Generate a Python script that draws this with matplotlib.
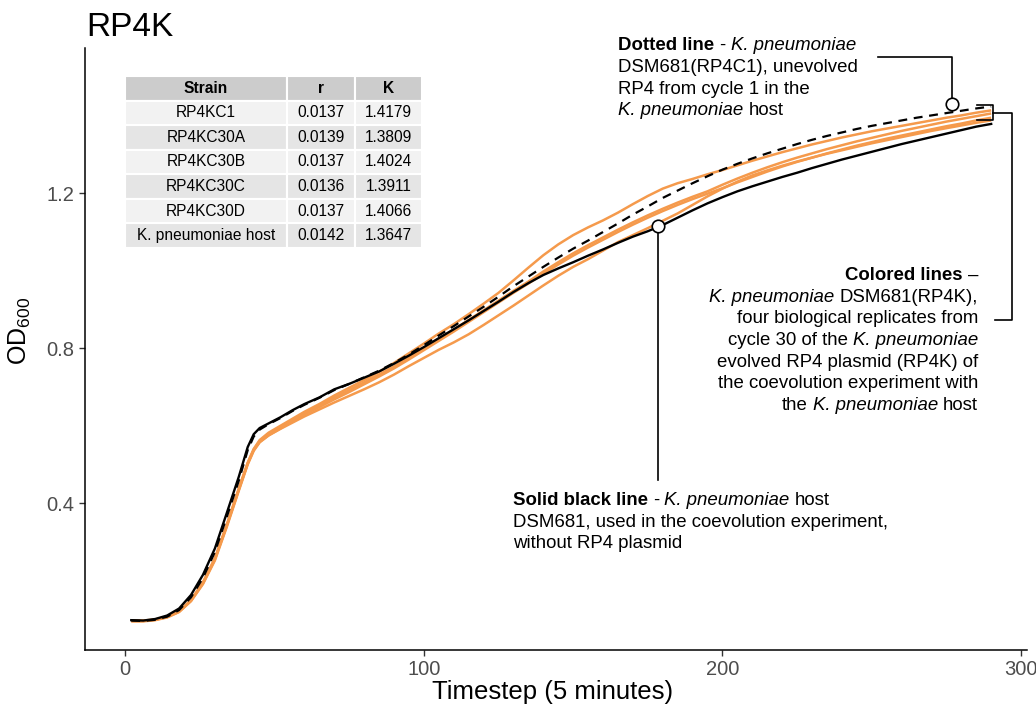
import matplotlib
matplotlib.use("Agg")
import matplotlib.pyplot as plt
from matplotlib.transforms import IdentityTransform

plt.rcParams['font.family'] = ['Liberation Sans', 'DejaVu Sans']
plt.rcParams['mathtext.fontset'] = 'custom'
plt.rcParams['mathtext.rm'] = 'Liberation Sans'
plt.rcParams['mathtext.it'] = 'Liberation Sans:italic'
plt.rcParams['mathtext.bf'] = 'Liberation Sans:bold'

# growth curves, OD600
timestep = [2, 6, 10, 14, 18, 22, 26, 30, 34, 38, 41, 43, 45, 48, 52, 56, 60,
            65, 70, 75, 80, 85, 90, 95, 100, 105, 110, 115, 120, 125, 130, 135,
            140, 145, 150, 155, 160, 165, 170, 175, 180, 185, 190, 195, 200, 205,
            210, 215, 220, 225, 230, 235, 240, 245, 250, 255, 260, 265, 270, 275,
            280, 285, 290]

host = [0.098, 0.097, 0.101, 0.110, 0.128, 0.163, 0.215, 0.283, 0.375, 0.468,
        0.545, 0.578, 0.594, 0.606, 0.622, 0.640, 0.656, 0.673, 0.694, 0.708,
        0.724, 0.740, 0.760, 0.781, 0.803, 0.826, 0.849, 0.872, 0.896, 0.920,
        0.945, 0.968, 0.989, 1.006, 1.022, 1.039, 1.055, 1.072, 1.088, 1.102,
        1.118, 1.137, 1.156, 1.174, 1.190, 1.205, 1.218, 1.230, 1.242, 1.253,
        1.265, 1.276, 1.287, 1.297, 1.307, 1.317, 1.327, 1.336, 1.345, 1.354,
        1.363, 1.372, 1.379]

rp4kc1 = [0.097, 0.096, 0.099, 0.107, 0.124, 0.157, 0.207, 0.274, 0.365, 0.458,
          0.537, 0.572, 0.590, 0.604, 0.620, 0.638, 0.654, 0.672, 0.692, 0.708,
          0.725, 0.742, 0.762, 0.784, 0.808, 0.833, 0.857, 0.882, 0.907, 0.933,
          0.960, 0.985, 1.010, 1.034, 1.057, 1.078, 1.100, 1.122, 1.145, 1.166,
          1.188, 1.207, 1.226, 1.244, 1.261, 1.276, 1.290, 1.303, 1.315, 1.327,
          1.338, 1.348, 1.357, 1.366, 1.374, 1.381, 1.388, 1.395, 1.401, 1.407,
          1.413, 1.419, 1.424]

rp4kc30d = [0.097, 0.097, 0.100, 0.107, 0.121, 0.150, 0.196, 0.258, 0.345, 0.438,
            0.505, 0.540, 0.563, 0.582, 0.600, 0.618, 0.636, 0.656, 0.678, 0.698,
            0.718, 0.739, 0.762, 0.787, 0.812, 0.838, 0.862, 0.888, 0.915, 0.943,
            0.975, 1.008, 1.040, 1.068, 1.092, 1.112, 1.130, 1.150, 1.172, 1.193,
            1.212, 1.226, 1.237, 1.249, 1.260, 1.272, 1.284, 1.295, 1.306, 1.316,
            1.326, 1.335, 1.344, 1.352, 1.360, 1.367, 1.374, 1.381, 1.388, 1.395,
            1.401, 1.408, 1.414]

rp4kc30b = [0.096, 0.096, 0.099, 0.106, 0.120, 0.149, 0.194, 0.256, 0.343, 0.436,
            0.503, 0.538, 0.560, 0.578, 0.596, 0.614, 0.632, 0.652, 0.673, 0.692,
            0.712, 0.732, 0.753, 0.776, 0.800, 0.824, 0.848, 0.873, 0.898, 0.923,
            0.948, 0.972, 0.998, 1.022, 1.045, 1.066, 1.086, 1.106, 1.125, 1.143,
            1.160, 1.176, 1.191, 1.205, 1.222, 1.238, 1.253, 1.267, 1.280, 1.292,
            1.303, 1.314, 1.324, 1.334, 1.343, 1.352, 1.361, 1.369, 1.377, 1.385,
            1.392, 1.399, 1.406]

rp4kc30c = [0.095, 0.095, 0.098, 0.105, 0.119, 0.147, 0.191, 0.252, 0.339, 0.432,
            0.500, 0.535, 0.557, 0.575, 0.593, 0.611, 0.629, 0.648, 0.668, 0.687,
            0.707, 0.727, 0.748, 0.771, 0.795, 0.819, 0.843, 0.868, 0.893, 0.918,
            0.943, 0.967, 0.992, 1.016, 1.039, 1.060, 1.080, 1.100, 1.119, 1.137,
            1.154, 1.170, 1.185, 1.199, 1.213, 1.228, 1.242, 1.256, 1.269, 1.281,
            1.292, 1.303, 1.313, 1.323, 1.332, 1.341, 1.349, 1.357, 1.365, 1.373,
            1.380, 1.388, 1.395]

rp4kc30a = [0.096, 0.096, 0.099, 0.106, 0.120, 0.148, 0.193, 0.255, 0.342, 0.434,
            0.502, 0.537, 0.558, 0.575, 0.592, 0.608, 0.624, 0.642, 0.660, 0.677,
            0.694, 0.712, 0.732, 0.754, 0.775, 0.796, 0.815, 0.836, 0.860, 0.885,
            0.910, 0.936, 0.962, 0.987, 1.010, 1.030, 1.052, 1.074, 1.092, 1.110,
            1.129, 1.148, 1.170, 1.192, 1.212, 1.230, 1.246, 1.259, 1.271, 1.282,
            1.292, 1.302, 1.311, 1.320, 1.329, 1.337, 1.345, 1.353, 1.361, 1.368,
            1.375, 1.382, 1.388]

# logistic fit table
strains = ["RP4KC1", "RP4KC30A", "RP4KC30B", "RP4KC30C", "RP4KC30D", "K. pneumoniae host"]
r_vals = ["0.0137", "0.0139", "0.0137", "0.0136", "0.0137", "0.0142"]
k_vals = ["1.4179", "1.3809", "1.4024", "1.3911", "1.4066", "1.3647"]

# annotation lines: pieces (text, style) joined by single spaces
KP = ("K. pneumoniae", "i")
note_dotted = [
    [("Dotted line", "b"), ("-", "n"), KP],
    [("DSM681(RP4C1), unevolved", "n")],
    [("RP4 from cycle 1 in the", "n")],
    [KP, ("host", "n")],
]
note_colored = [
    [("Colored lines", "b"), ("–", "n")],
    [KP, ("DSM681(RP4K),", "n")],
    [("four biological replicates from", "n")],
    [("cycle 30 of the", "n"), KP],
    [("evolved RP4 plasmid (RP4K) of", "n")],
    [("the coevolution experiment with", "n")],
    [("the", "n"), KP, ("host", "n")],
]
note_solid = [
    [("Solid black line", "b"), ("-", "n"), KP, ("host", "n")],
    [("DSM681, used in the coevolution experiment,", "n")],
    [("without RP4 plasmid", "n")],
]

orange = "#F59A4C"
W, H = 1036, 710
FS = 13.4
STYLE = {"n": {}, "b": {"fontweight": "bold"}, "i": {"fontstyle": "italic"}}

fig = plt.figure(figsize=(W / 100, H / 100), dpi=100)
ax = fig.add_axes([85 / W, 60 / H, 942 / W, 602 / H])
renderer = fig.canvas.get_renderer()


def text_w(s, st):
    t = fig.text(0, 0, s, fontsize=FS, **STYLE[st])
    w = t.get_window_extent(renderer).width
    t.remove()
    return w


SPACE = text_w("a a", "n") - text_w("aa", "n")


def rich_block(x, y_base, lines, ha="left", step=21.8):
    # x, y_base in pixels from the top-left of the image
    for i, pieces in enumerate(lines):
        widths = [text_w(s, st) for s, st in pieces]
        total = sum(widths) + SPACE * (len(pieces) - 1)
        cx = x if ha == "left" else x - total
        yb = H - (y_base + i * step)
        for (s, st), w in zip(pieces, widths):
            fig.text(cx, yb, s, fontsize=FS, va="baseline", ha="left",
                     transform=IdentityTransform(), **STYLE[st])
            cx += w + SPACE


for series in [rp4kc30d, rp4kc30b, rp4kc30c, rp4kc30a]:
    ax.plot(timestep, series, color=orange, lw=1.8, solid_capstyle="butt")
ax.plot(timestep, host, color="black", lw=1.7)
ax.plot(timestep, rp4kc1, color="black", lw=1.6, ls=(0, (4, 3)))

ax.set_xlim(-13.5, 302)
ax.set_ylim(0.021, 1.575)
ax.set_xticks([0, 100, 200, 300])
ax.set_yticks([0.4, 0.8, 1.2])
ax.spines["top"].set_visible(False)
ax.spines["right"].set_visible(False)
for s in ["left", "bottom"]:
    ax.spines[s].set_linewidth(1.1)
ax.tick_params(labelsize=14.5, labelcolor="#4D4D4D", color="#333333", length=4, width=1)

ax.set_xlabel("Timestep (5 minutes)", fontsize=18.5)
ax.xaxis.set_label_coords(0.496, -0.05)
ax.set_ylabel(r"OD$_{600}$", fontsize=18)
ax.yaxis.set_label_coords(-0.055, 0.53)

fig.text(86 / W, 1 - 36 / H, "RP4K", fontsize=24, va="baseline", ha="left")

# callouts
ax.plot([252.2, 277, 277], [1.5525, 1.5525, 1.43], color="black", lw=1.2, clip_on=False)
ax.plot([277], [1.43], "o", ms=9, mfc="white", mec="black", mew=1.2, clip_on=False)
ax.plot([285.3, 290.7, 290.7, 285.3], [1.428, 1.428, 1.389, 1.389],
        color="black", lw=1.2, clip_on=False)
ax.plot([290.7, 297, 297, 291.3], [1.408, 1.408, 0.873, 0.873],
        color="black", lw=1.2, clip_on=False)
ax.plot([178.5, 178.5], [1.116, 0.460], color="black", lw=1.2)
ax.plot([178.5], [1.116], "o", ms=9, mfc="white", mec="black", mew=1.2)

rich_block(618, 50, note_dotted, ha="left")
rich_block(978, 280, note_colored, ha="right", step=21.67)
rich_block(513, 505, note_solid, ha="left", step=21.67)

# table
rows = [[s, r, k] for s, r, k in zip(strains, r_vals, k_vals)]
tab = ax.table(cellText=rows, colLabels=["Strain", "r", "K"], cellLoc="center",
               colLoc="center", bbox=[0.0425, 0.6678, 0.3153, 0.2857],
               colWidths=[0.545, 0.230, 0.225])
tab.auto_set_font_size(False)
tab.set_fontsize(11.2)
for (r, c), cell in tab.get_celld().items():
    cell.set_edgecolor("white")
    cell.set_linewidth(1.5)
    if r == 0:
        cell.set_facecolor("#CCCCCC")
        cell.get_text().set_fontweight("bold")
    else:
        cell.set_facecolor("#F2F2F2" if r % 2 == 1 else "#E5E5E5")

fig.savefig("out.png", dpi=100)
